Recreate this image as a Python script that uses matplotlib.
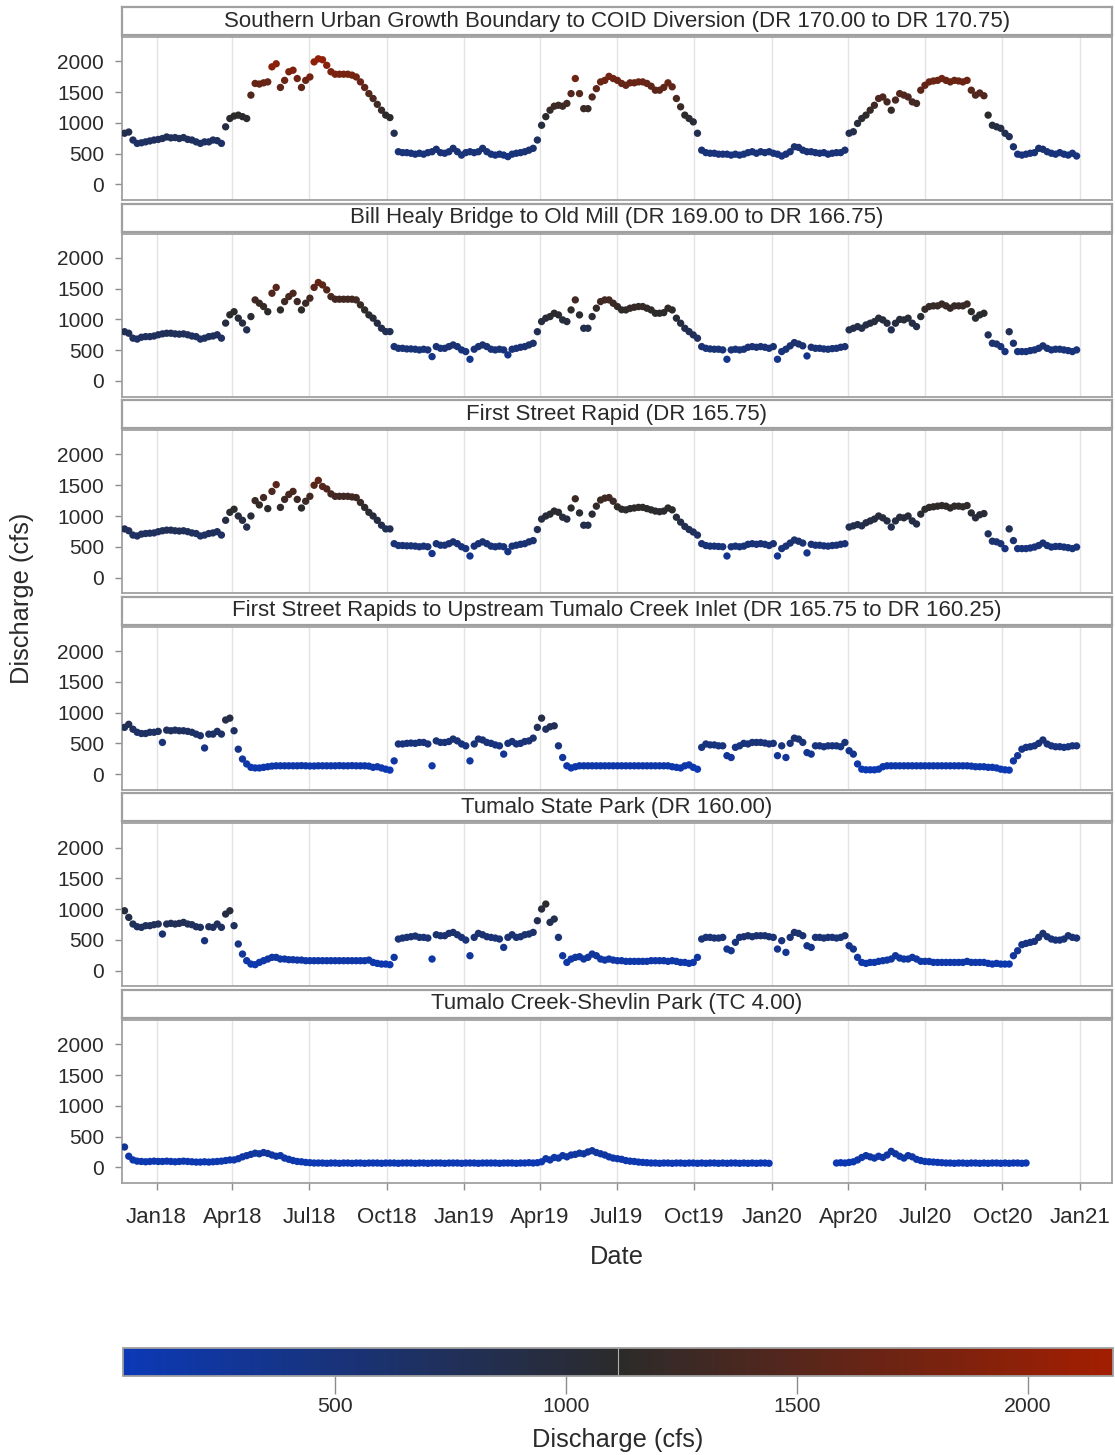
import numpy as np
import pandas as pd
import matplotlib
matplotlib.use("Agg")
import matplotlib.pyplot as plt
import matplotlib.dates as mdates
from matplotlib.colors import LinearSegmentedColormap, Normalize
from matplotlib.cm import ScalarMappable

nan = np.nan

# Observation dates (every 5 days)
dates = pd.date_range("2017-11-24", periods=227, freq="5D")

reach_titles = [
    "Southern Urban Growth Boundary to COID Diversion (DR 170.00 to DR 170.75)",
    "Bill Healy Bridge to Old Mill (DR 169.00 to DR 166.75)",
    "First Street Rapid (DR 165.75)",
    "First Street Rapids to Upstream Tumalo Creek Inlet (DR 165.75 to DR 160.25)",
    "Tumalo State Park (DR 160.00)",
    "Tumalo Creek-Shevlin Park (TC 4.00)",
]

# Discharge (cfs) per reach
southern_ugb = [
    830, 850, 720, 665, 675, 690, 705, 720, 730, 745,
    770, 755, 760, 745, 760, 730, 720, 690, 665, 690,
    690, 720, 710, 665, 935, 1070, 1110, 1125, 1100, 1070,
    1450, 1640, 1630, 1650, 1665, 1910, 1960, 1575, 1690, 1830,
    1855, 1720, 1575, 1690, 1745, 1990, 2040, 2025, 1935, 1830,
    1790, 1790, 1790, 1790, 1775, 1745, 1665, 1575, 1475, 1395,
    1300, 1205, 1125, 1085, 830, 530, 515, 515, 505, 490,
    505, 490, 515, 530, 570, 515, 505, 530, 585, 530,
    475, 515, 530, 515, 530, 585, 530, 490, 475, 490,
    475, 450, 490, 505, 515, 530, 555, 585, 720, 960,
    1100, 1205, 1270, 1285, 1270, 1315, 1475, 1720, 1475, 1230,
    1230, 1420, 1555, 1665, 1690, 1755, 1720, 1690, 1640, 1610,
    1650, 1650, 1665, 1665, 1640, 1595, 1530, 1530, 1575, 1650,
    1585, 1395, 1260, 1125, 1070, 1015, 830, 555, 515, 505,
    505, 490, 490, 490, 475, 490, 475, 490, 515, 530,
    505, 530, 515, 530, 505, 490, 460, 490, 530, 610,
    600, 555, 530, 530, 515, 505, 515, 490, 505, 515,
    515, 555, 830, 855, 990, 1070, 1125, 1205, 1285, 1395,
    1420, 1340, 1205, 1370, 1475, 1450, 1420, 1340, 1315, 1530,
    1610, 1665, 1680, 1690, 1720, 1690, 1665, 1690, 1680, 1665,
    1690, 1530, 1450, 1485, 1440, 1125, 960, 935, 910, 830,
    775, 610, 490, 475, 490, 505, 515, 585, 570, 530,
    505, 490, 515, 490, 475, 505, 460,
]

bill_healy = [
    800, 775, 695, 680, 710, 720, 720, 730, 750, 765,
    775, 775, 765, 760, 765, 750, 730, 720, 680, 695,
    720, 730, 750, 695, 940, 1075, 1125, 1020, 940, 830,
    1046, 1317, 1263, 1209, 1125, 1425, 1520, 1154, 1290, 1371,
    1425, 1290, 1154, 1263, 1345, 1520, 1600, 1560, 1480, 1371,
    1328, 1328, 1328, 1328, 1328, 1317, 1236, 1154, 1073, 1020,
    938, 856, 802, 802, 558, 530, 530, 520, 520, 515,
    504, 515, 504, 395, 558, 530, 530, 558, 585, 558,
    504, 477, 352, 515, 558, 585, 558, 515, 504, 515,
    504, 423, 515, 530, 547, 558, 585, 612, 800, 965,
    1020, 1046, 1100, 1073, 992, 965, 1154, 1317, 1073, 856,
    856, 1046, 1182, 1290, 1317, 1317, 1263, 1209, 1154, 1154,
    1182, 1198, 1209, 1209, 1182, 1154, 1100, 1100, 1110, 1182,
    1154, 1020, 938, 856, 802, 748, 694, 558, 530, 520,
    515, 515, 504, 352, 504, 515, 504, 515, 547, 558,
    547, 558, 547, 530, 558, 352, 477, 515, 570, 623,
    600, 570, 406, 547, 530, 530, 520, 515, 525, 530,
    547, 558, 830, 856, 883, 856, 910, 938, 965, 1020,
    992, 938, 830, 938, 1000, 992, 1020, 938, 883, 1046,
    1165, 1209, 1220, 1220, 1250, 1220, 1182, 1220, 1220, 1220,
    1250, 1127, 1020, 1073, 1100, 748, 612, 600, 558, 477,
    800, 612, 477, 477, 477, 493, 504, 530, 570, 530,
    504, 515, 515, 504, 493, 477, 504,
]

first_street = [
    790, 760, 690, 675, 705, 715, 720, 725, 745, 760,
    770, 770, 760, 755, 760, 745, 725, 715, 675, 690,
    715, 725, 745, 690, 930, 1060, 1110, 1000, 930, 820,
    1000, 1250, 1180, 1300, 1120, 1400, 1510, 1140, 1270, 1350,
    1400, 1270, 1130, 1240, 1320, 1500, 1580, 1480, 1440, 1360,
    1320, 1320, 1320, 1320, 1310, 1300, 1220, 1140, 1060, 1000,
    930, 850, 790, 790, 550, 520, 520, 515, 515, 510,
    500, 510, 500, 390, 550, 525, 525, 550, 580, 550,
    500, 470, 350, 510, 550, 580, 550, 510, 500, 510,
    500, 420, 510, 525, 540, 550, 580, 600, 780, 950,
    1000, 1030, 1080, 1060, 980, 950, 1130, 1280, 1050, 850,
    850, 1030, 1160, 1260, 1290, 1300, 1240, 1150, 1110, 1100,
    1120, 1130, 1140, 1140, 1120, 1100, 1080, 1070, 1080, 1130,
    1100, 980, 900, 830, 780, 740, 690, 550, 520, 510,
    510, 505, 500, 350, 500, 510, 500, 510, 540, 550,
    540, 550, 540, 520, 550, 350, 470, 510, 560, 610,
    590, 560, 400, 540, 525, 525, 515, 510, 520, 525,
    540, 550, 820, 840, 860, 840, 890, 920, 950, 1000,
    970, 920, 820, 920, 980, 970, 1000, 920, 870, 1030,
    1110, 1140, 1150, 1160, 1170, 1160, 1130, 1160, 1160, 1150,
    1170, 1050, 970, 1020, 1040, 710, 590, 580, 550, 470,
    790, 600, 470, 470, 470, 480, 495, 520, 560, 520,
    495, 505, 505, 495, 485, 470, 495,
]

first_street_to_tumalo = [
    760, 810, 730, 680, 660, 660, 680, 680, 695, 515,
    715, 705, 715, 705, 705, 695, 680, 650, 625, 425,
    650, 650, 695, 650, 880, 910, 705, 405, 245, 165,
    110, 100, 100, 110, 120, 130, 135, 135, 135, 135,
    135, 135, 138, 135, 132, 132, 135, 135, 135, 135,
    135, 138, 135, 135, 138, 135, 135, 135, 130, 110,
    120, 100, 80, 65, 215, 490, 490, 500, 505, 500,
    515, 515, 490, 135, 540, 515, 515, 530, 570, 540,
    490, 460, 215, 490, 570, 555, 515, 500, 475, 460,
    325, 500, 530, 490, 500, 530, 540, 585, 760, 910,
    730, 770, 785, 460, 270, 135, 100, 120, 135, 135,
    135, 135, 135, 135, 135, 135, 135, 135, 135, 135,
    135, 135, 135, 135, 135, 135, 135, 135, 135, 135,
    120, 110, 100, 135, 150, 110, 80, 435, 490, 475,
    475, 460, 460, 300, 270, 435, 460, 500, 490, 515,
    515, 515, 505, 490, 500, 300, 460, 270, 500, 585,
    570, 515, 350, 325, 460, 460, 445, 460, 460, 460,
    445, 515, 380, 325, 165, 80, 70, 70, 70, 80,
    120, 135, 135, 135, 135, 135, 135, 135, 135, 135,
    135, 135, 135, 135, 135, 135, 135, 135, 135, 135,
    135, 130, 120, 120, 120, 110, 110, 100, 80, 70,
    65, 215, 300, 405, 435, 445, 460, 500, 555, 490,
    460, 445, 445, 435, 445, 460, 460,
]

tumalo_state_park = [
    975, 867, 759, 715, 705, 732, 732, 748, 759, 596,
    759, 770, 759, 770, 786, 759, 748, 715, 705, 488,
    715, 705, 759, 705, 921, 975, 732, 434, 271, 163,
    108, 98, 135, 163, 190, 217, 217, 190, 190, 179,
    179, 173, 173, 163, 163, 163, 163, 163, 163, 163,
    163, 163, 163, 163, 163, 163, 163, 163, 173, 135,
    119, 108, 108, 98, 217, 515, 531, 542, 553, 564,
    542, 542, 531, 190, 585, 569, 569, 607, 623, 585,
    542, 498, 244, 542, 607, 585, 553, 542, 531, 515,
    379, 542, 585, 542, 553, 585, 596, 623, 813, 1003,
    1084, 786, 840, 542, 244, 135, 190, 217, 228, 190,
    217, 271, 244, 190, 173, 190, 173, 163, 163, 152,
    152, 152, 152, 152, 152, 163, 163, 163, 163, 152,
    163, 152, 135, 135, 119, 135, 217, 515, 542, 542,
    531, 531, 542, 352, 325, 461, 542, 553, 569, 553,
    569, 569, 569, 553, 542, 352, 488, 298, 542, 623,
    607, 569, 406, 379, 542, 542, 531, 542, 542, 531,
    542, 569, 406, 352, 217, 135, 119, 135, 135, 152,
    163, 173, 190, 244, 206, 190, 190, 217, 190, 152,
    152, 152, 135, 135, 135, 135, 135, 135, 135, 135,
    152, 135, 135, 135, 135, 119, 108, 119, 108, 108,
    108, 244, 325, 423, 444, 461, 477, 542, 607, 553,
    515, 498, 498, 515, 569, 542, 531,
]

tumalo_creek = [
    330, 180, 120, 100, 95, 90, 95, 100, 95, 95,
    100, 95, 90, 95, 100, 95, 90, 85, 85, 90,
    85, 90, 95, 100, 110, 120, 120, 140, 170, 190,
    210, 230, 220, 240, 225, 200, 180, 190, 150, 130,
    110, 95, 90, 80, 75, 70, 70, 70, 65, 70,
    70, 65, 70, 70, 65, 70, 70, 65, 70, 70,
    70, 65, 70, 70, 70, 65, 70, 70, 70, 65,
    70, 70, 65, 70, 70, 70, 65, 70, 70, 70,
    65, 70, 70, 70, 65, 70, 70, 70, 70, 65,
    70, 70, 70, 65, 70, 70, 75, 70, 75, 90,
    140, 120, 160, 150, 190, 170, 200, 210, 230, 220,
    250, 270, 240, 220, 200, 170, 150, 140, 130, 110,
    100, 95, 85, 80, 75, 70, 70, 65, 70, 70,
    65, 70, 70, 65, 70, 70, 65, 70, 65, 70,
    70, 65, 70, 65, 70, 70, 65, 70, 65, 70,
    65, 70, 70, 65, nan, nan, nan, nan, nan, nan,
    nan, nan, nan, nan, nan, nan, nan, nan, nan, 70,
    75, 70, 80, 90, 120, 160, 190, 170, 150, 180,
    160, 200, 260, 220, 180, 150, 190, 170, 130, 110,
    95, 90, 85, 80, 75, 70, 70, 65, 70, 70,
    65, 70, 70, 65, 70, 65, 70, 70, 65, 70,
    65, 70, 70, 65, 70, nan, nan, nan, nan, nan,
    nan, nan, nan, nan, nan, nan, nan,
]

reach_series = [southern_ugb, bill_healy, first_street,
                first_street_to_tumalo, tumalo_state_park, tumalo_creek]

y_ticks = [0, 500, 1000, 1500, 2000]
cbar_ticks = [500, 1000, 1500, 2000]

plt.rcParams["font.family"] = ["Liberation Sans", "DejaVu Sans"]

W, H = 1115, 1455
fig = plt.figure(figsize=(W / 100, H / 100), dpi=100)

cmap = LinearSegmentedColormap.from_list(
    "discharge", ["#0b39b6", "#2b2b2b", "#a31e00"])
norm = Normalize(vmin=40, vmax=2185)

text_col = "#2a2a2a"
frame_col = "#a0a0a0"
grid_col = "#e3e3e3"

x_left, x_right = 122, 1112
panel_step = 196.6
xlim = (pd.Timestamp("2017-11-21"), pd.Timestamp("2021-02-08"))
quarter_ticks = pd.date_range("2018-01-01", "2021-01-01", freq="QS")

for k, (title, vals) in enumerate(zip(reach_titles, reach_series)):
    vals = np.asarray(vals, dtype=float)
    ok = ~np.isnan(vals)

    ax = fig.add_axes([x_left / W, 1 - (200 + panel_step * k) / H,
                       (x_right - x_left) / W, 163 / H])
    ax.scatter(dates[ok], vals[ok], c=vals[ok], cmap=cmap, norm=norm,
               s=28, marker="o", linewidths=0, zorder=3)
    ax.set_xlim(xlim)
    ax.set_ylim(-255, 2395)
    ax.set_xticks(quarter_ticks)
    ax.set_yticks(y_ticks)
    ax.grid(axis="x", color=grid_col, linewidth=1, zorder=0)
    ax.set_axisbelow(True)
    ax.tick_params(axis="y", length=5, width=1, color="#8c8c8c",
                   labelsize=15, labelcolor=text_col, pad=8)
    if k < len(reach_titles) - 1:
        ax.tick_params(axis="x", length=0, labelbottom=False)
    else:
        ax.xaxis.set_major_formatter(mdates.DateFormatter("%b%y"))
        ax.tick_params(axis="x", length=5, width=1, color="#8c8c8c",
                       labelsize=16, labelcolor=text_col, pad=12)
    for sp in ax.spines.values():
        sp.set_color(frame_col)
        sp.set_linewidth(1.3)

    strip = fig.add_axes([x_left / W, 1 - (35 + panel_step * k) / H,
                          (x_right - x_left) / W, 28 / H])
    strip.set_xticks([])
    strip.set_yticks([])
    for sp in strip.spines.values():
        sp.set_color(frame_col)
        sp.set_linewidth(1.6)
    strip.text(0.5, 0.5, title, ha="center", va="center",
               fontsize=16, color=text_col, transform=strip.transAxes)

fig.text(22 / W, 1 - 598 / H, "Discharge (cfs)", rotation=90,
         ha="center", va="center", fontsize=18.3, color=text_col)
fig.text((x_left + x_right) / 2 / W, 1 - 1257 / H, "Date",
         ha="center", va="center", fontsize=18.3, color=text_col)

# Colour ramp legend
cax = fig.add_axes([123 / W, 1 - 1376 / H, 990 / W, 28 / H])
cb = fig.colorbar(ScalarMappable(norm=norm, cmap=cmap), cax=cax,
                  orientation="horizontal", ticks=cbar_ticks)
cb.outline.set_edgecolor(frame_col)
cb.outline.set_linewidth(1.3)
cax.tick_params(length=13, width=1, color="#8c8c8c", labelsize=15.3,
                labelcolor=text_col, pad=2)
cax.axvline((norm.vmin + norm.vmax) / 2, color="#b0b0b0", linewidth=0.8)
fig.text(618 / W, 1 - 1440 / H, "Discharge (cfs)", ha="center",
         va="center", fontsize=18.3, color=text_col)

fig.savefig("out.png", dpi=100)
